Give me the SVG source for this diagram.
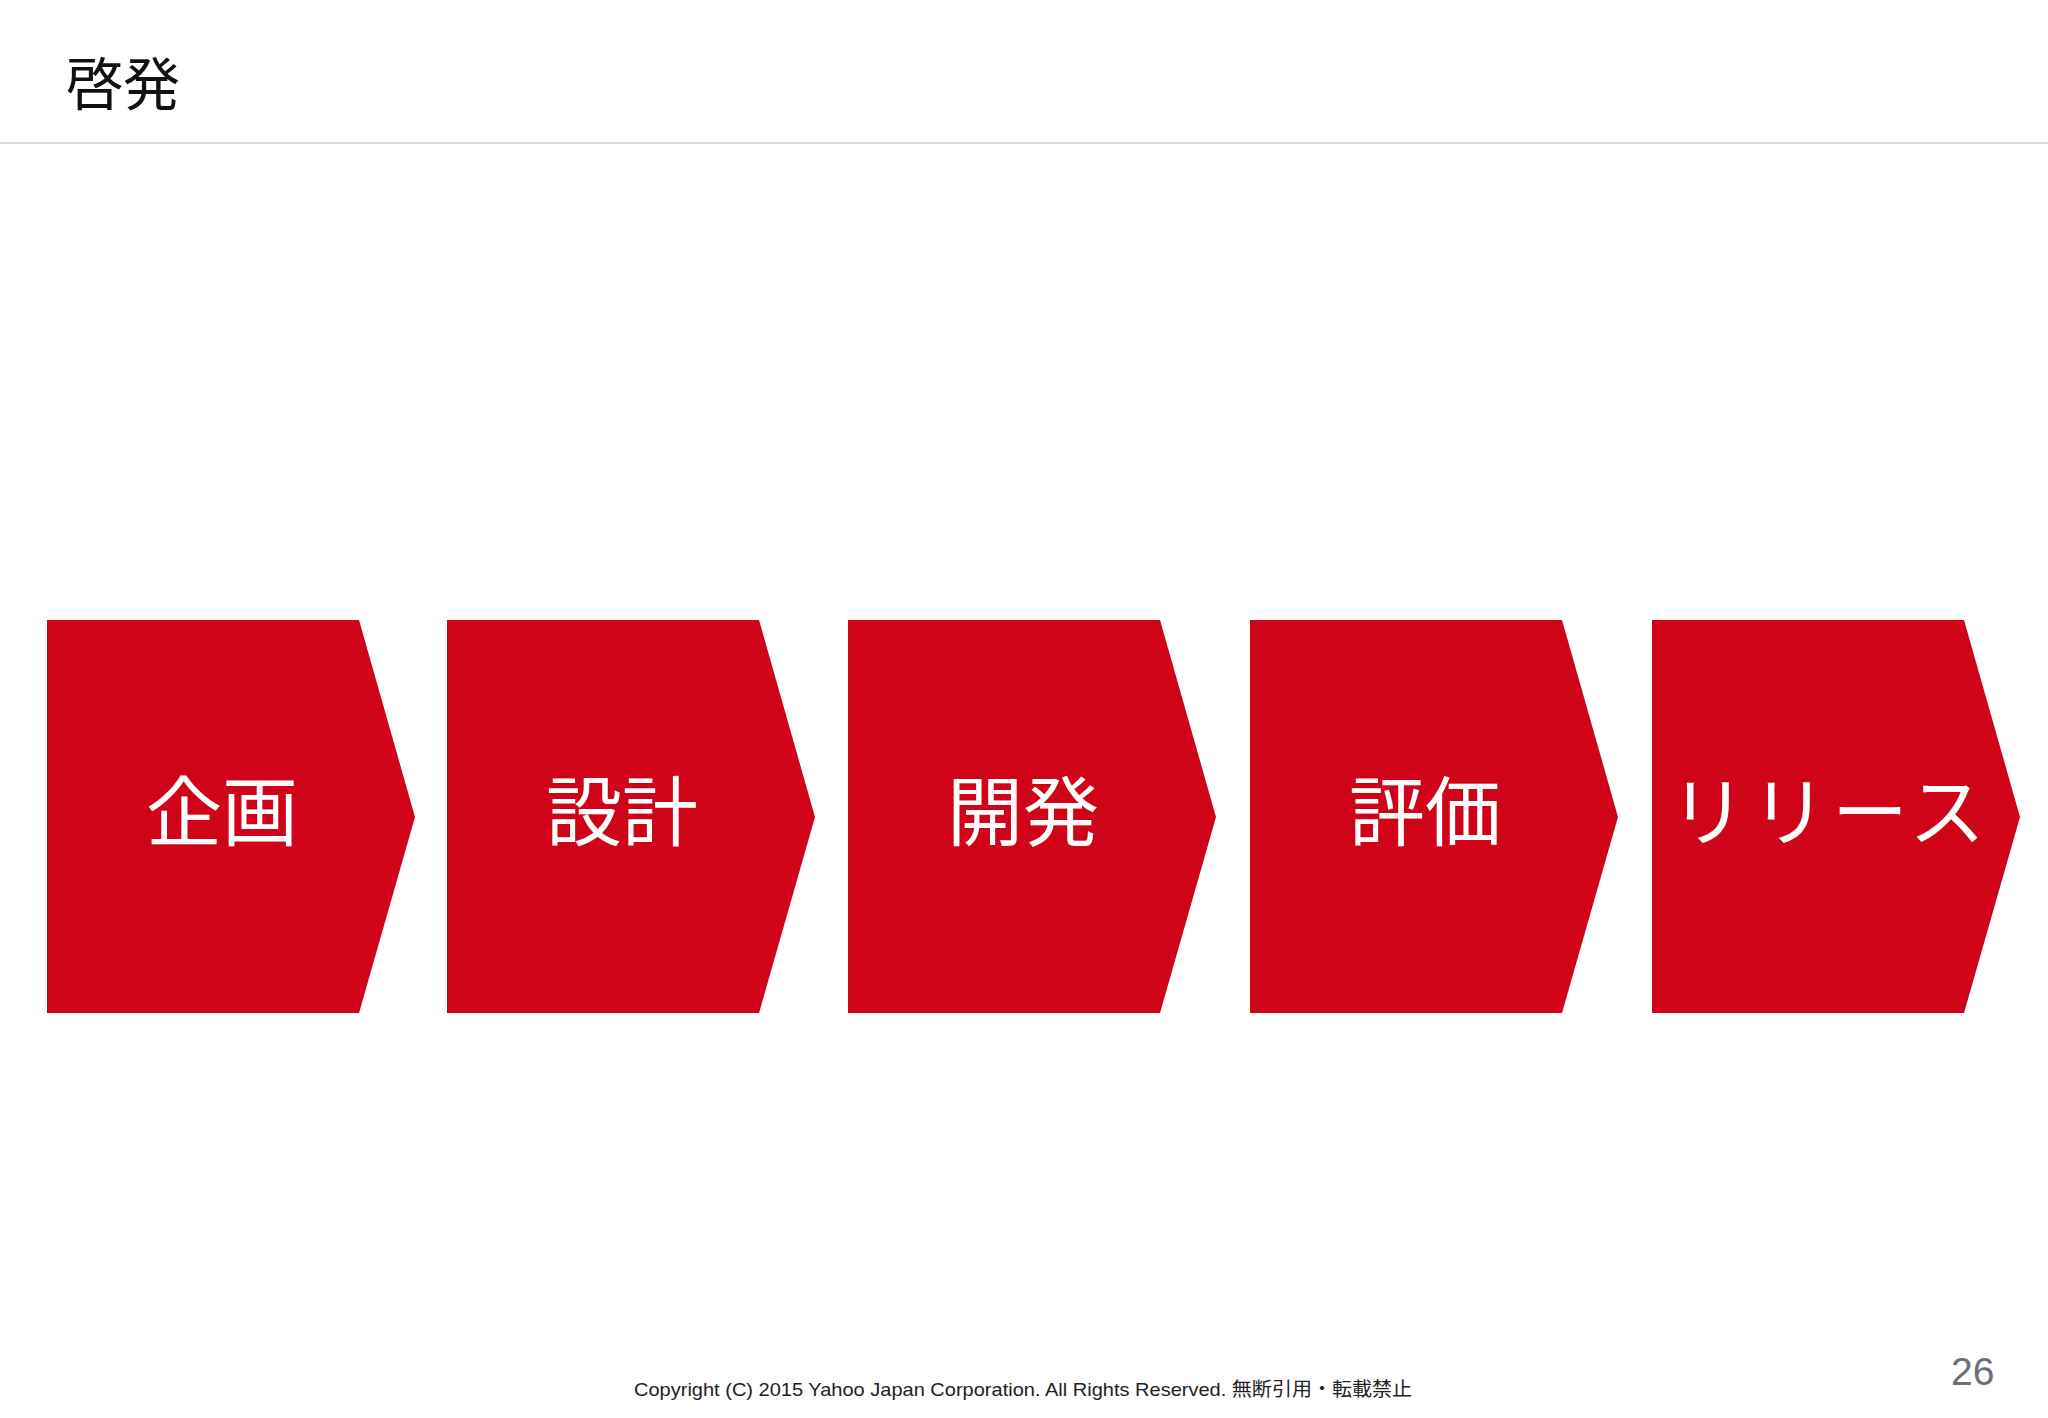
<svg xmlns="http://www.w3.org/2000/svg" width="2048" height="1418" viewBox="0 0 2048 1418">
<style>
.step{fill:#cf0419}
.lbl{font-family:"Noto Sans CJK JP","Noto Sans",sans-serif;font-size:76px;fill:#ffffff;text-anchor:middle}
.title{font-family:"Noto Sans CJK JP",sans-serif;font-size:57px;fill:#111111}
.foot{font-family:"Liberation Sans","Noto Sans CJK JP",sans-serif;font-size:19px;fill:#222222}
.pg{font-family:"Liberation Sans",sans-serif;font-size:39px;fill:#6b7078}
</style>
<rect width="2048" height="1418" fill="#ffffff"/>
<g id="header">
<text class="title" x="66" y="105">啓発</text>
<line x1="0" y1="143" x2="2048" y2="143" stroke="#d9d9d9" stroke-width="2"/>
</g>
<g id="step1">
<polygon class="step" points="47,620 359,620 415,817 359,1013 47,1013"/>
<text class="lbl" x="222" y="840">企画</text>
</g>
<g id="step2">
<polygon class="step" points="447,620 759,620 815,817 759,1013 447,1013"/>
<text class="lbl" x="622" y="840">設計</text>
</g>
<g id="step3">
<polygon class="step" points="848,620 1160,620 1216,817 1160,1013 848,1013"/>
<text class="lbl" x="1023" y="840">開発</text>
</g>
<g id="step4">
<polygon class="step" points="1250,620 1562,620 1618,817 1562,1013 1250,1013"/>
<text class="lbl" x="1425" y="840">評価</text>
</g>
<g id="step5">
<polygon class="step" points="1652,620 1964,620 2020,817 1964,1013 1652,1013"/>
<text class="lbl" x="1830" y="840" letter-spacing="5">リリース</text>
</g>
<g id="connectors"></g>
<g id="footer">
<text class="foot" x="634" y="1396" textLength="778" lengthAdjust="spacingAndGlyphs">Copyright (C) 2015 Yahoo Japan Corporation. All Rights Reserved. 無断引用・転載禁止</text>
<text class="pg" x="1951" y="1385">26</text>
</g>
</svg>
